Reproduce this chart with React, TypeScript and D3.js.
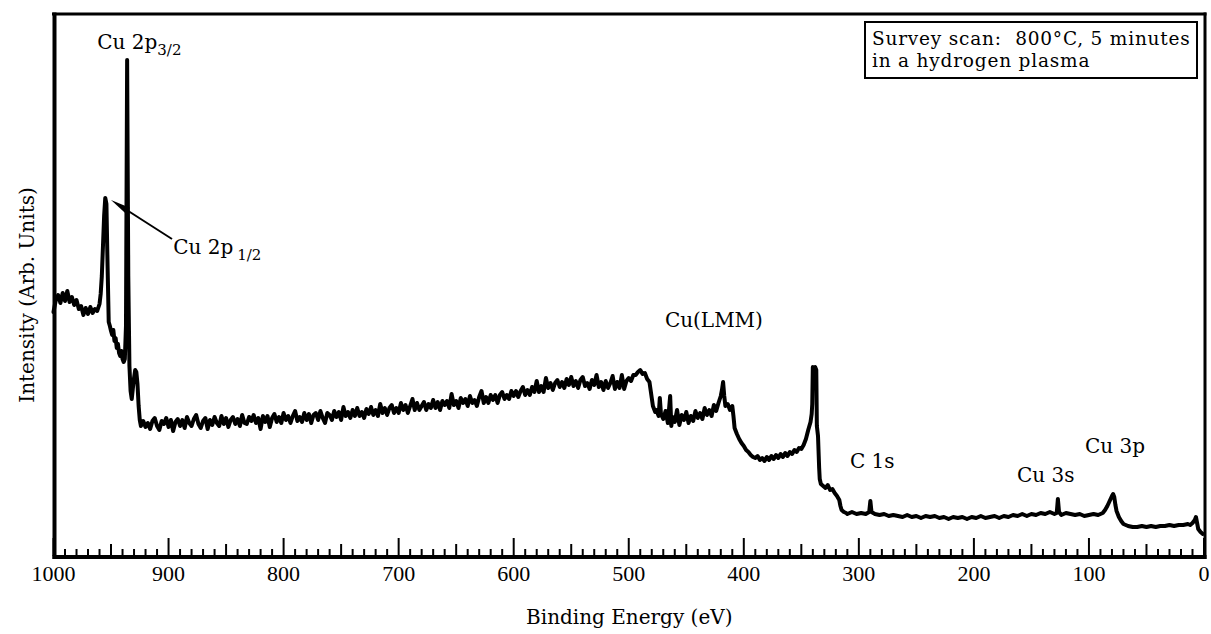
import React from "react";
import * as d3 from "d3";

const W = 1211;
const H = 634;

// Axes
const energyDomain: [number, number] = [1000, 0];
const intensityDomain: [number, number] = [0, 542];
const majorTicks = [1000, 900, 800, 700, 600, 500, 400, 300, 200, 100, 0];
const tickLabels = ["1000", "900", "800", "700", "600", "500", "400", "300", "200", "100", "0"];

// Survey spectrum, [binding energy (eV), intensity (arb. units)]
const cu2pRegion: [number, number][] = [
  [1000, 244], [998, 256], [996, 261], [994, 253], [992, 263], [990, 255], [988, 265], [986, 254],
  [984, 259], [982, 251], [980, 256], [978, 247], [976, 250], [974, 241], [972, 248], [970, 242],
  [968, 249], [966, 243], [964, 247], [962, 245], [960, 252], [959, 262], [958, 280], [957, 310],
  [956, 340], [955, 358], [954, 352], [953, 290], [952, 234], [951, 230], [950, 225], [949, 221],
  [948, 226], [947, 215], [946, 218], [945, 208], [944, 212], [943, 203], [942, 200], [941, 205],
  [940, 197], [939, 194], [938, 197], [937, 230], [936, 496], [935, 280], [934, 190], [933, 165],
  [932, 157], [931, 168], [930, 178], [929, 186], [928, 184], [927, 172], [926, 150], [925, 136],
  [924, 130],
];

const inelasticRegion: [number, number][] = [
  [922, 135], [920, 129], [918, 133], [916, 127], [914, 135], [912, 138], [910, 130], [908, 126],
  [906, 135], [904, 132], [902, 138], [900, 129], [898, 136], [896, 125], [894, 134], [892, 137],
  [890, 130], [888, 136], [886, 128], [884, 139], [882, 133], [880, 130], [878, 137], [876, 141],
  [874, 132], [872, 128], [870, 135], [868, 138], [866, 127], [864, 136], [862, 131], [860, 139],
  [858, 133], [856, 130], [854, 140], [852, 132], [850, 138], [848, 129], [846, 136], [844, 139],
  [842, 132], [840, 137], [838, 130], [836, 141], [834, 133], [832, 132], [830, 139], [828, 135],
  [826, 141], [824, 133], [822, 138], [820, 127], [818, 140], [816, 134], [814, 140], [812, 129],
  [810, 138], [808, 142], [806, 134], [804, 139], [802, 133], [800, 143], [798, 136], [796, 140],
  [794, 133], [792, 140], [790, 145], [788, 135], [786, 139], [784, 134], [782, 143], [780, 136],
  [778, 142], [776, 133], [774, 141], [772, 143], [770, 136], [768, 145], [766, 138], [764, 133],
  [762, 143], [760, 141], [758, 136], [756, 145], [754, 139], [752, 144], [750, 136], [748, 149],
  [746, 140], [744, 144], [742, 138], [740, 146], [738, 140], [736, 148], [734, 140], [732, 144],
  [730, 138], [728, 147], [726, 142], [724, 149], [722, 141], [720, 146], [718, 140], [716, 152],
  [714, 143], [712, 148], [710, 141], [708, 148], [706, 151], [704, 143], [702, 148], [700, 143],
  [698, 153], [696, 146], [694, 151], [692, 143], [690, 150], [688, 157], [686, 146], [684, 153],
  [682, 146], [680, 150], [678, 154], [676, 146], [674, 152], [672, 148], [670, 156], [668, 148],
  [666, 154], [664, 146], [662, 155], [660, 151],
];

const midRegion: [number, number][] = [
  [658, 155], [656, 148], [654, 162], [652, 151], [650, 155], [648, 148], [646, 158], [644, 153],
  [642, 157], [640, 150], [638, 160], [636, 153], [634, 156], [632, 150], [630, 159], [628, 165],
  [626, 153], [624, 159], [622, 153], [620, 161], [618, 156], [616, 161], [614, 153], [612, 161],
  [610, 164], [608, 157], [606, 161], [604, 157], [602, 165], [600, 160], [598, 165], [596, 159],
  [594, 165], [592, 169], [590, 161], [588, 166], [586, 161], [584, 169], [582, 164], [580, 175],
  [578, 164], [576, 170], [574, 164], [572, 178], [570, 168], [568, 173], [566, 166], [564, 173],
  [562, 176], [560, 169], [558, 174], [556, 168], [554, 177], [552, 171], [550, 179], [548, 170],
  [546, 175], [544, 168], [542, 176], [540, 179], [538, 170], [536, 173], [534, 167], [532, 176],
  [530, 171], [528, 181], [526, 169], [524, 174], [522, 166], [520, 175], [518, 168], [516, 173],
  [514, 180], [512, 167], [510, 174], [508, 168], [506, 181], [504, 167], [502, 175], [500, 178],
  [498, 175], [496, 181], [494, 181], [492, 184], [490, 186], [488, 182], [486, 183], [484, 177],
  [482, 174], [481, 166], [480, 158], [479, 150], [477, 144],
];

const augerRegion: [number, number][] = [
  [476, 146], [474, 140], [473, 158], [472, 142], [470, 137], [468, 145], [466, 133], [464, 160],
  [463, 130], [462, 139], [460, 134], [458, 146], [456, 131], [454, 141], [452, 136], [450, 144],
  [448, 133], [446, 140], [444, 135], [442, 145], [440, 138], [438, 143], [436, 137], [434, 148],
  [432, 141], [430, 146], [428, 140], [426, 151], [424, 145], [422, 153], [420, 160], [419, 166],
  [418, 174], [417, 160], [416, 150], [414, 152], [412, 146], [410, 150], [409, 140], [408, 128],
  [406, 122], [404, 117], [402, 113], [400, 110], [398, 106], [396, 104], [394, 101], [392, 99],
  [390, 98], [388, 100], [386, 96], [384, 98], [382, 95], [380, 99], [378, 96], [376, 100],
  [374, 97], [372, 101], [370, 98], [368, 102], [366, 99], [364, 103], [362, 100], [360, 104],
  [358, 102], [356, 106], [354, 104], [352, 108], [350, 107], [348, 111], [346, 117], [344, 126],
  [342, 134], [341, 142], [340.5, 152], [340, 189], [339, 182], [338, 189], [337, 186], [336.5, 130],
  [335.5, 120], [334.5, 88], [334, 77], [333, 72], [331, 70], [329, 68], [327, 71], [325, 66],
  [323, 67], [321, 63], [319, 60], [317, 56], [316, 50], [315, 46], [313, 44], [311, 43],
];

const lowEnergyRegion: [number, number][] = [
  [310, 42], [306, 44], [302, 42], [298, 43], [294, 42], [291, 44], [290, 55], [289, 44],
  [286, 42], [282, 41], [278, 42], [274, 40], [270, 41], [266, 40], [262, 39], [258, 41],
  [254, 39], [250, 40], [246, 38], [242, 40], [238, 39], [234, 40], [230, 38], [226, 39],
  [222, 37], [218, 39], [214, 38], [210, 39], [206, 37], [202, 39], [198, 38], [194, 40],
  [190, 38], [186, 39], [182, 40], [178, 38], [174, 40], [170, 39], [166, 41], [162, 40],
  [158, 42], [154, 40], [150, 42], [146, 41], [142, 43], [138, 42], [134, 44], [130, 42],
  [128, 43], [127, 57], [126, 44], [124, 41], [120, 43], [116, 42], [112, 41], [108, 42],
  [104, 40], [100, 41], [96, 42], [92, 41], [88, 43], [86, 46], [84, 50], [82, 55],
  [80, 60], [79, 62], [78, 59], [77, 51], [76, 45], [74, 39], [72, 35], [70, 32],
  [66, 30], [62, 29], [58, 29], [54, 30], [50, 29], [46, 30], [42, 29], [38, 30],
  [34, 30], [30, 31], [26, 30], [22, 31], [18, 31], [14, 32], [12, 31], [10, 33],
  [8, 36], [7, 39], [6, 33], [5, 27], [3, 24], [1, 22],
];

// Peak annotations, anchored in (eV, intensity) space
const peakLabels = [
  { main: "Cu 2p", sub: "3/2", subGap: 0, e: 962, v: 507 },
  { main: "Cu 2p", sub: "1/2", subGap: 4, e: 896, v: 302 },
  { main: "Cu(LMM)", sub: "", subGap: 0, e: 468.6, v: 229 },
  { main: "C 1s", sub: "", subGap: 0, e: 307.8, v: 88 },
  { main: "Cu 3s", sub: "", subGap: 0, e: 162.5, v: 74 },
  { main: "Cu 3p", sub: "", subGap: 0, e: 103.4, v: 103 },
];
const arrowTail: [number, number] = [897, 317];
const arrowTip: [number, number] = [950, 356];

const noteLines = ["Survey scan:  800°C, 5 minutes", "in a hydrogen plasma"];

const labelFont = "'DejaVu Serif', serif";
const numberFont = "'Liberation Serif', serif";

export default function App() {
  const x = d3.scaleLinear().domain(energyDomain).range([53.5, 1204]);
  const y = d3.scaleLinear().domain(intensityDomain).range([556, 14]);

  const spectrum = [...cu2pRegion, ...inelasticRegion, ...midRegion, ...augerRegion, ...lowEnergyRegion];
  const line = d3
    .line<[number, number]>()
    .x((d) => x(d[0]))
    .y((d) => y(d[1]));

  const plotLeft = x(1000);
  const plotRight = x(0) + 1;
  const plotTop = y(intensityDomain[1]);
  const plotBottom = y(0);

  const minorTicks = d3.range(0, 1001, 10);
  const tickLen = (e: number) => (e % 100 === 0 ? 18 : e % 50 === 0 ? 12 : 7);

  // arrow head geometry in pixel space
  const tx = x(arrowTip[0]);
  const ty = y(arrowTip[1]);
  const sx = x(arrowTail[0]);
  const sy = y(arrowTail[1]);
  const len = Math.hypot(sx - tx, sy - ty);
  const ux = (sx - tx) / len;
  const uy = (sy - ty) / len;
  const headLen = 20;
  const headHalf = 3.5;
  const bx = tx + ux * headLen;
  const by = ty + uy * headLen;
  const head = [
    [tx, ty],
    [bx - uy * headHalf, by + ux * headHalf],
    [bx + uy * headHalf, by - ux * headHalf],
  ]
    .map((p) => p.join(","))
    .join(" ");

  const boxW = 332;
  const boxH = 56;
  const boxX = plotRight - 8 - boxW;
  const boxY = plotTop + 8;

  return (
    <svg
      width={W}
      height={H}
      style={{ position: "absolute", left: 0, top: 0, background: "#fff", display: "block" }}
    >
      <rect x={0} y={0} width={W} height={H} fill="#fff" />

      {/* spectrum */}
      <path
        d={line(spectrum) || ""}
        fill="none"
        stroke="#000"
        strokeWidth={4}
        strokeLinejoin="round"
        strokeLinecap="round"
      />

      {/* frame */}
      <line x1={plotLeft - 1.5} x2={plotRight + 1.5} y1={plotTop} y2={plotTop} stroke="#000" strokeWidth={3} />
      <line x1={plotRight} x2={plotRight} y1={plotTop - 1.5} y2={plotBottom + 3} stroke="#000" strokeWidth={3} />
      <line x1={plotLeft + 1} x2={plotLeft + 1} y1={plotTop - 1.5} y2={plotBottom + 3} stroke="#000" strokeWidth={4} />
      <line x1={plotLeft - 1} x2={plotRight + 1.5} y1={plotBottom + 1} y2={plotBottom + 1} stroke="#000" strokeWidth={4} />

      {/* ticks */}
      {minorTicks.map((e) => (
        <line
          key={e}
          x1={x(e)}
          x2={x(e)}
          y1={plotBottom}
          y2={plotBottom - tickLen(e)}
          stroke="#000"
          strokeWidth={2}
        />
      ))}
      {majorTicks.map((e, i) => (
        <text
          key={e}
          x={x(e)}
          y={plotBottom + 25}
          textAnchor="middle"
          fontFamily={numberFont}
          fontSize={22}
          fill="#000"
        >
          {tickLabels[i]}
        </text>
      ))}

      {/* axis titles */}
      <text
        x={(plotLeft + plotRight) / 2}
        y={624}
        textAnchor="middle"
        fontFamily={labelFont}
        fontSize={20}
        fill="#000"
      >
        Binding Energy (eV)
      </text>
      <text
        transform={`translate(34, ${(plotTop + plotBottom) / 2 + 10}) rotate(-90)`}
        textAnchor="middle"
        fontFamily={labelFont}
        fontSize={20}
        fill="#000"
      >
        Intensity (Arb. Units)
      </text>

      {/* peak labels */}
      {peakLabels.map((p, i) => (
        <text key={i} x={x(p.e)} y={y(p.v)} fontFamily={labelFont} fontSize={20} fill="#000">
          {p.main}
          {p.sub && (
            <tspan dx={p.subGap} dy={6} fontSize={15}>
              {p.sub}
            </tspan>
          )}
        </text>
      ))}

      {/* arrow to Cu 2p1/2 */}
      <line x1={sx} y1={sy} x2={bx} y2={by} stroke="#000" strokeWidth={2} />
      <polygon points={head} fill="#000" />

      {/* note box */}
      <rect x={boxX} y={boxY} width={boxW} height={boxH} fill="#fff" stroke="#000" strokeWidth={2} />
      {noteLines.map((t, i) => (
        <text
          key={i}
          x={boxX + 7}
          y={boxY + 23 + i * 22}
          fontFamily={labelFont}
          fontSize={18.5}
          letterSpacing={0.8}
          fill="#000"
          style={{ whiteSpace: "pre" }}
        >
          {t}
        </text>
      ))}
    </svg>
  );
}
